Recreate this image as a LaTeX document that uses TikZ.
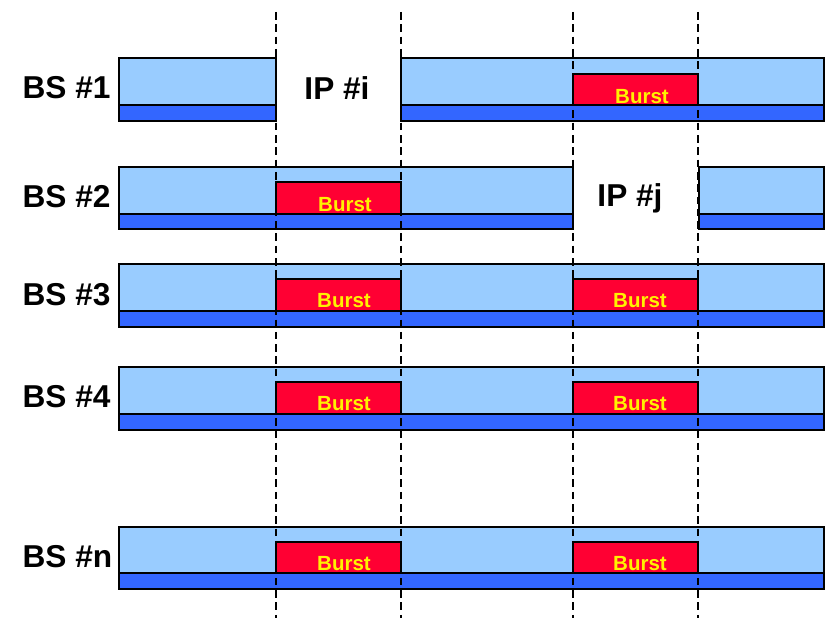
\documentclass[tikz,border=0pt]{standalone}
\usepackage{fontspec}
\setmainfont{Liberation Sans}
\definecolor{slotblue}{HTML}{99CCFF}
\definecolor{bandblue}{HTML}{3366FF}
\definecolor{burstred}{HTML}{FF0033}

\begin{document}
\begin{tikzpicture}[
            x = 0.03cm, y = -0.03cm, % one unit per pixel
            line width = 1.1pt
        ]

        \tikzstyle{slot}=[draw = black, fill = slotblue]
        \tikzstyle{band}=[draw = black, fill = bandblue]
        \tikzstyle{burst}=[draw = black, fill = burstred]
        \tikzstyle{bursttext}=[text = yellow, font = \fontsize{17.5}{18}\selectfont\bfseries, inner sep = 0pt]
        \tikzstyle{bslabel}=[anchor = west, font = \fontsize{27}{28}\selectfont\bfseries, inner sep = 0pt]
        \tikzstyle{iplabel}=[font = \fontsize{27}{28}\selectfont\bfseries, inner sep = 0pt]
        \tikzstyle{guard}=[line width = 1pt, dash pattern = on 6.5pt off 4pt]

        \useasboundingbox (0,0) rectangle (827,618);

        % BS #1 : idle period i
        \draw[slot] (119,58) rectangle (276,105);
        \draw[band] (119,105) rectangle (276,121);
        \draw[slot] (401,58) rectangle (824,105);
        \draw[band] (401,105) rectangle (824,121);
        \draw[burst] (573,74) rectangle (698,105);
        \node[bursttext] (burst1) at (642,97) {Burst};
        \node[iplabel] (ipi) at (337,88) {IP \#i};

        % BS #2 : idle period j
        \draw[slot] (119,167) rectangle (573,214);
        \draw[band] (119,214) rectangle (573,229);
        \draw[slot] (699,167) rectangle (824,214);
        \draw[band] (699,214) rectangle (824,229);
        \draw[burst] (276,182) rectangle (401,214);
        \node[bursttext] (burst2) at (345,205) {Burst};
        \node[iplabel] (ipj) at (630,198) {IP \#j};

        % remaining stations
        \foreach \t/\m/\b in {264/311/327, 367/414/430, 527/573/589}
        {
            \draw[slot] (119,\t) rectangle (824,\m);
            \draw[band] (119,\m) rectangle (824,\b);
            \draw[burst] (276,\t+15) rectangle (401,\m);
            \draw[burst] (573,\t+15) rectangle (698,\m);
            \node[bursttext] at (344,\t+37) {Burst};
            \node[bursttext] at (640,\t+37) {Burst};
        }

        \node[bslabel] (bs1) at (22,88) {BS \#1};
        \node[bslabel] (bs2) at (22,197) {BS \#2};
        \node[bslabel] (bs3) at (22,295) {BS \#3};
        \node[bslabel] (bs4) at (22,397) {BS \#4};
        \node[bslabel] (bsn) at (22,557) {BS \#n};

        % frame boundaries
        \foreach \x in {276, 401, 573, 698}
            \draw[guard] (\x,12) -- (\x,618);

  \end{tikzpicture}
\end{document}
